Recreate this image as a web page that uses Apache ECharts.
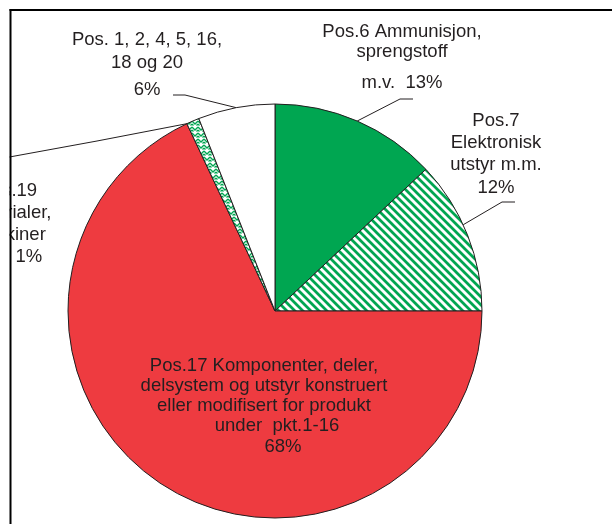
<!DOCTYPE html>
<html>
<head>
<meta charset="utf-8">
<script src="https://cdn.jsdelivr.net/npm/echarts@6/dist/echarts.min.js"></script>
<style>
  html, body { margin: 0; padding: 0; background: #fff; }
  #chart { width: 612px; height: 524px; }
</style>
</head>
<body>
<div id="chart"></div>
<script>
// slices, clockwise from 12 o'clock
const categories = [
  "Pos.6 Ammunisjon, sprengstoff m.v.",
  "Pos.7 Elektronisk utstyr m.m.",
  "Pos.17 Komponenter, deler, delsystem og utstyr konstruert eller modifisert for produkt under pkt.1-16",
  "Pos.19 Materialer, maskiner",
  "Pos. 1, 2, 4, 5, 16, 18 og 20"
];
const shares = [13, 12, 68, 1, 6];
// label text, line by line ({p} = percent)
const labelText = [
  ["Pos.6 Ammunisjon,", "sprengstoff", "m.v.  {p}"],
  ["Pos.7", "Elektronisk", "utstyr m.m.", "{p}"],
  ["Pos.17 Komponenter, deler,", "delsystem og utstyr konstruert", "eller modifisert for produkt", "under  pkt.1-16", "{p}"],
  ["Pos.19", "Materialer,", "maskiner", "{p}"],
  ["Pos. 1, 2, 4, 5, 16,", "18 og 20", "{p}"]
];

const FONT = "'Liberation Sans', Arial, sans-serif";
const TXT = "#231F20";
const GREEN = "#00A651";
const RED = "#EE3B40";
const CX = 275, CY = 311, R = 207;

// where each label sits (center x, top y, line heights, left pads),
// where its line meets the slice (0..1 along the slice) and the line bends
const labelPos = [
  { x: 402, y: 22, h: [20, 20, 41], at: 0.5, line: [[400, 99], [413, 99]] },
  { x: 496, y: 109.4, h: [22.3, 22.3, 22.3, 22.3], at: 0.43, line: [[502, 202], [515, 202]] },
  { x: 264, y: 355.4, h: [20.25, 20.25, 20.25, 20.25, 20.25], pad: [0, 0, 0, 26, 38] },
  { x: 8.3, y: 179.5, h: [22, 22, 22, 22], pad: [0, 0, 0, 41], at: 0, line: [[97, 141], [4, 158]] },
  { x: 147, y: 28.75, h: [22.5, 22.5, 32.5], at: 0.5, line: [[185, 95], [173, 95]] }
];

function stripes() {
  const s = 8, c = document.createElement("canvas");
  c.width = c.height = s;
  const g = c.getContext("2d");
  g.fillStyle = "#fff";
  g.fillRect(0, 0, s, s);
  g.strokeStyle = GREEN;
  g.lineWidth = 2.8;
  g.beginPath();
  g.moveTo(-2, -2); g.lineTo(s + 2, s + 2);
  g.moveTo(-2, s - 2); g.lineTo(2, s + 2);
  g.moveTo(s - 2, -2); g.lineTo(s + 2, 2);
  g.stroke();
  return c;
}

function zigzag() {
  const s = 6, c = document.createElement("canvas");
  c.width = c.height = s;
  const g = c.getContext("2d");
  g.fillStyle = "#fff";
  g.fillRect(0, 0, s, s);
  g.strokeStyle = GREEN;
  g.lineWidth = 1.3;
  g.beginPath();
  g.moveTo(0, 1); g.lineTo(3, 4); g.lineTo(6, 1);
  g.moveTo(0, 4); g.lineTo(1.5, 5.5);
  g.moveTo(6, 4); g.lineTo(4.5, 5.5);
  g.stroke();
  return c;
}

const fills = [GREEN, { image: stripes(), repeat: "repeat" }, RED, { image: zigzag(), repeat: "repeat" }, "#fff"];

function richFor(i) {
  const L = labelPos[i], rich = {};
  labelText[i].forEach((t, k) => {
    rich["r" + k] = {
      fontFamily: FONT, fontSize: 18.5, color: TXT,
      lineHeight: L.h[k],
      padding: [0, 0, 0, (L.pad && L.pad[k]) || 0]
    };
  });
  return rich;
}

// point on the rim at a fraction through slice i
function rimPoint(i, at) {
  const total = shares.reduce((a, b) => a + b, 0);
  let before = 0;
  for (let k = 0; k < i; k++) before += shares[k];
  const a = (before + at * shares[i]) / total * 2 * Math.PI;
  return [CX + R * Math.sin(a), CY - R * Math.cos(a)];
}

const seriesData = categories.map((name, i) => ({
  name: name,
  value: shares[i],
  itemStyle: { color: fills[i] },
  label: {
    formatter: labelText[i].map((t, k) => "{r" + k + "|" + t.replace("{p}", shares[i] + "%") + "}").join("\n"),
    rich: richFor(i)
  },
  labelLine: { show: !!labelPos[i].line }
}));

const myChart = echarts.init(document.getElementById("chart"), null, { renderer: "canvas" });

const option = {
  backgroundColor: "#fff",
  animation: false,
  series: [
    {
      type: "pie",
      center: [CX, CY],
      radius: R,
      startAngle: 90,
      clockwise: true,
      avoidLabelOverlap: false,
      itemStyle: { borderColor: TXT, borderWidth: 1 },
      label: {
        show: true,
        position: "outside",
        fontFamily: FONT,
        fontSize: 18.5,
        color: TXT,
        align: "center"
      },
      labelLine: { show: true, lineStyle: { color: TXT, width: 1 } },
      emphasis: { disabled: true },
      labelLayout: function (params) {
        const i = params.dataIndex, L = labelPos[i];
        const res = { x: L.x, y: L.y, align: "center", verticalAlign: "top" };
        if (L.line) {
          res.labelLinePoints = [rimPoint(i, L.at)].concat(L.line);
        }
        return res;
      },
      data: seriesData
    }
  ],
  graphic: [
    { type: "rect", z: 100, shape: { x: 0, y: 0, width: 9.5, height: 524 }, style: { fill: "#fff" } },
    { type: "line", z: 101, shape: { x1: 10.5, y1: 9, x2: 10.5, y2: 524 }, style: { stroke: "#000", lineWidth: 2 } },
    { type: "line", z: 101, shape: { x1: 9.5, y1: 10, x2: 612, y2: 10 }, style: { stroke: "#000", lineWidth: 2 } }
  ]
};

myChart.setOption(option);
</script>
</body>
</html>
